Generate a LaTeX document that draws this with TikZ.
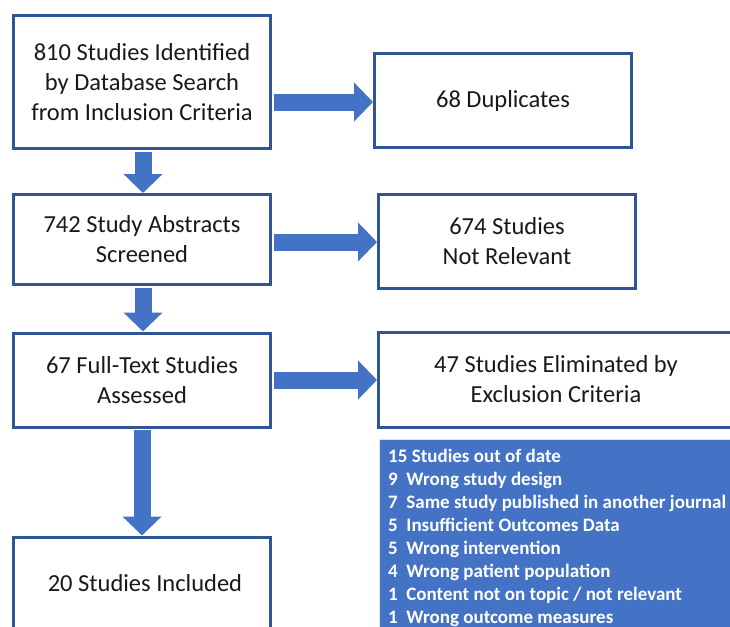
\documentclass[tikz,border=0pt]{standalone}
\usepackage{fontspec}
\setmainfont{Carlito}
\usetikzlibrary{arrows.meta}
\definecolor{boxblue}{HTML}{2F5597}
\definecolor{fillblue}{HTML}{4472C4}
\tikzset{
  boxfont/.style={font=\fontsize{24.5}{30}\selectfont, text=black!90},
  flowbox/.style={draw=boxblue, line width=3pt, fill=white, inner sep=0pt, align=center, boxfont},
  fatarrow/.style={draw=fillblue, line width=17pt,
    -{Triangle[width=38pt,length=19pt]}, fillblue, shorten <=1.5pt},
}
\begin{document}
\begin{tikzpicture}[x=1pt,y=-1pt]
\useasboundingbox (0,0) rectangle (730,626);
\begin{scope}
\clip (0,0) rectangle (730,626);
% boxes
\node[flowbox, minimum width=257pt, minimum height=133pt] (b1) at (142,82)
  {810 Studies Identified\\by Database Search\\from Inclusion Criteria};
\node[flowbox, minimum width=257pt, minimum height=94pt] (dup) at (503,100.5)
  {68 Duplicates};
\node[flowbox, minimum width=257pt, minimum height=90pt] (b2) at (142,239.5)
  {742 Study Abstracts\\Screened};
\node[flowbox, minimum width=257pt, minimum height=94pt] (nr) at (507,241.5)
  {674 Studies\\Not Relevant};
\node[flowbox, minimum width=257pt, minimum height=94pt] (b3) at (142,380)
  {67 Full-Text Studies\\Assessed};
\node[flowbox, minimum width=362pt, minimum height=95pt] (ex) at (559.5,379.5) {};
\node[boxfont, align=center] (ext) at (556,379)
  {47 Studies Eliminated by\\Exclusion Criteria};
\node[flowbox, minimum width=257pt, minimum height=110pt] (b4) at (142,592) {};
\node[boxfont] (b4t) at (145,583) {20 Studies Included};
% list box
\node[fill=fillblue, draw=black!10, line width=0.8pt, minimum width=370pt, minimum height=200pt,
  anchor=north west, inner sep=0pt] (lst) at (379,439) {};
\node[anchor=north west, inner sep=0pt, text=white, align=left,
  font=\bfseries\fontsize{19}{23}\selectfont] (lstt) at (388,449)
  {15 Studies out of date\\
   9\ \ Wrong study design\\
   7\ \ Same study published in another journal\\
   5\ \ Insufficient Outcomes Data\\
   5\ \ Wrong intervention\\
   4\ \ Wrong patient population\\
   1\ \ Content not on topic / not relevant\\
   1\ \ Wrong outcome measures};
% arrows
\draw[fatarrow] (b1.east |- 0,102) -- (dup.west |- 0,102);
\draw[fatarrow] (b2.east |- 0,242) -- (nr.west |- 0,242);
\draw[fatarrow] (b3.east |- 0,380) -- (ex.west |- 0,380);
\draw[fatarrow] (b1.south -| 143,0) -- (b2.north -| 143,0);
\draw[fatarrow] (b2.south -| 143,0) -- (b3.north -| 143,0);
\draw[fatarrow] (b3.south -| 142,0) -- (b4.north -| 142,0);
\end{scope}
\end{tikzpicture}
\end{document}
